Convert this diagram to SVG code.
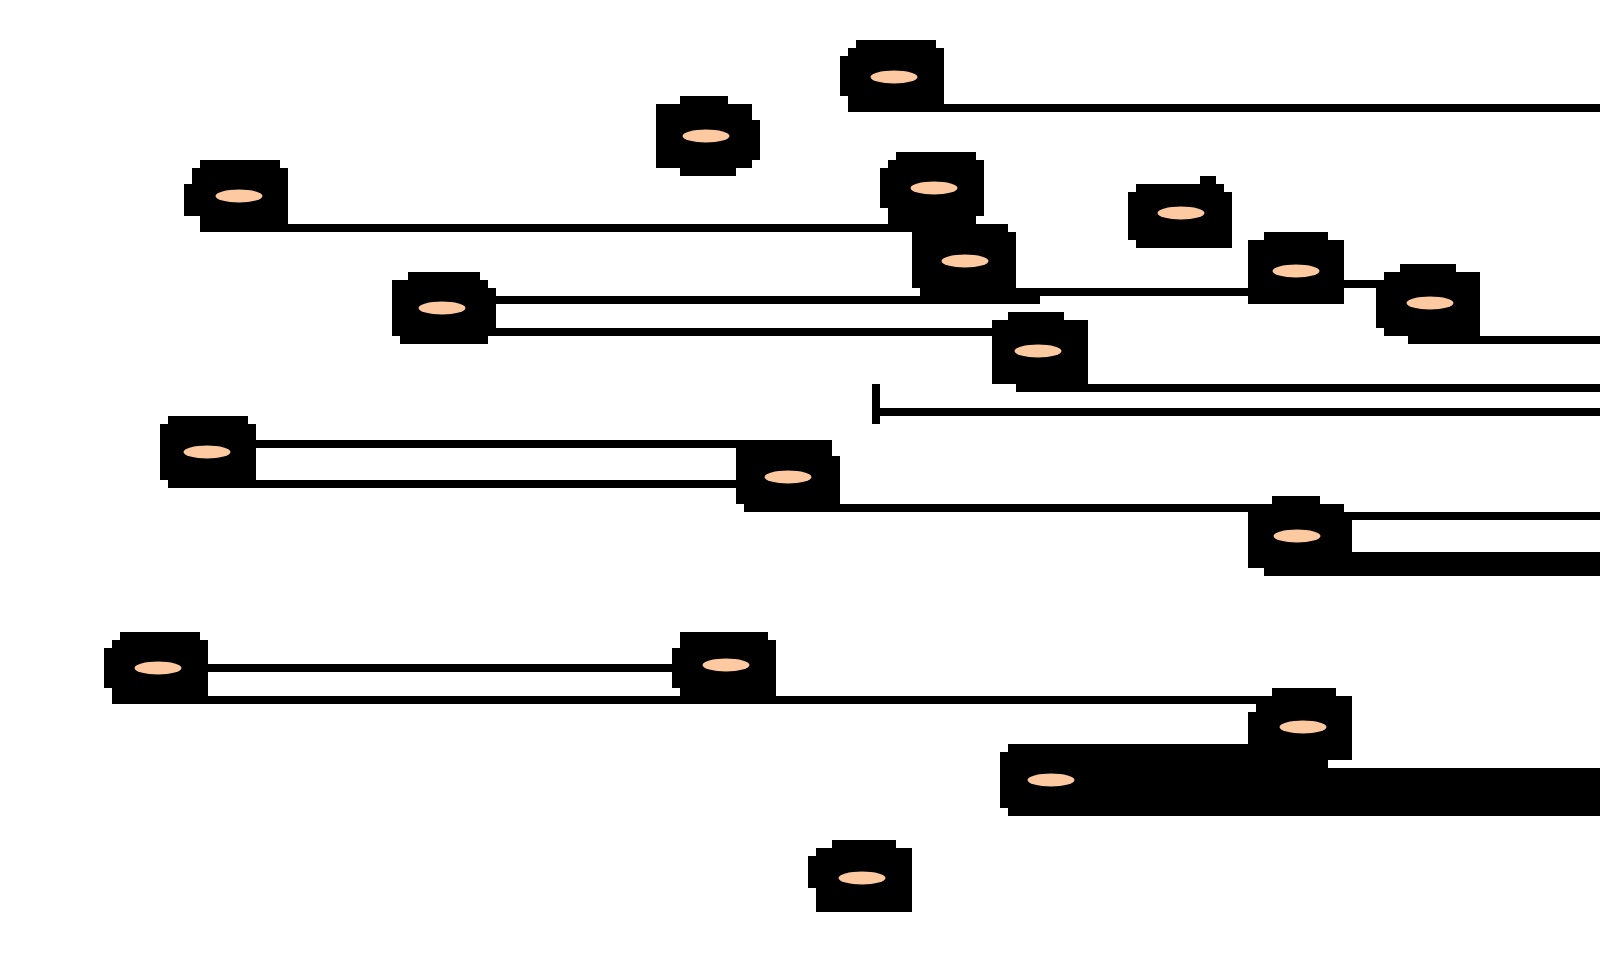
<svg xmlns="http://www.w3.org/2000/svg" width="1600" height="955" viewBox="0 0 1600 955">
<style>
.n{fill:#000}
.e{fill:#fdc9a0}
.c rect{fill:#000}
</style>
<rect width="1600" height="955" fill="#fff"/>
<g id="connectors" class="c">
<rect x="944" y="104" width="656" height="8"/>
<rect x="288" y="224" width="720" height="8"/>
<rect x="1016" y="288" width="232" height="8"/>
<rect x="496" y="296" width="544" height="8"/>
<rect x="496" y="328" width="496" height="8"/>
<rect x="1344" y="280" width="40" height="8"/>
<rect x="1480" y="336" width="120" height="8"/>
<rect x="1016" y="384" width="584" height="8"/>
<rect x="872" y="384" width="8" height="40"/>
<rect x="880" y="408" width="720" height="8"/>
<rect x="256" y="440" width="576" height="8"/>
<rect x="256" y="480" width="480" height="8"/>
<rect x="744" y="504" width="520" height="8"/>
<rect x="1344" y="512" width="256" height="8"/>
<rect x="1352" y="552" width="248" height="24"/>
<rect x="208" y="664" width="464" height="8"/>
<rect x="112" y="696" width="1160" height="8"/>
<rect x="1008" y="744" width="240" height="72"/>
<rect x="1248" y="768" width="352" height="48"/>
</g>
<g id="n1"><path class="n" d="M856,40H936V48H944V112H848V96H840V56H848V48H856Z"/><ellipse class="e" cx="894" cy="77" rx="23.5" ry="6.5"/></g>
<g id="n2"><path class="n" d="M680,96H728V104H752V120H760V160H752V168H736V176H680V168H656V104H680Z"/><ellipse class="e" cx="706" cy="136" rx="23.5" ry="6.5"/></g>
<g id="n3"><path class="n" d="M200,160H280V168H288V232H200V216H184V184H192V168H200Z"/><ellipse class="e" cx="239" cy="196" rx="23.5" ry="6.5"/></g>
<g id="n4"><path class="n" d="M896,152H976V160H984V216H976V224H888V208H880V168H888V160H896Z"/><ellipse class="e" cx="934" cy="188" rx="23.5" ry="6.5"/></g>
<g id="n5"><path class="n" d="M1136,184H1200V176H1216V184H1224V192H1232V248H1136V240H1128V192H1136Z"/><ellipse class="e" cx="1181" cy="213" rx="23.5" ry="6.5"/></g>
<g id="n6"><path class="n" d="M920,224H1008V232H1016V296H920V288H912V232H920Z"/><ellipse class="e" cx="965" cy="261" rx="23.5" ry="6.5"/></g>
<g id="n7"><path class="n" d="M1264,232H1328V240H1344V304H1248V240H1264Z"/><ellipse class="e" cx="1296" cy="271" rx="23.5" ry="6.5"/></g>
<g id="n8"><path class="n" d="M1400,264H1456V272H1480V344H1408V336H1384V328H1376V280H1384V272H1400Z"/><ellipse class="e" cx="1430" cy="303" rx="23.5" ry="6.5"/></g>
<g id="n9"><path class="n" d="M408,272H480V280H488V288H496V336H488V344H400V336H392V280H408Z"/><ellipse class="e" cx="442" cy="308" rx="23.5" ry="6.5"/></g>
<g id="n10"><path class="n" d="M1008,312H1064V320H1088V392H1016V384H992V320H1008Z"/><ellipse class="e" cx="1038" cy="351" rx="23.5" ry="6.5"/></g>
<g id="n11"><path class="n" d="M168,416H248V424H256V488H168V480H160V424H168Z"/><ellipse class="e" cx="207" cy="452" rx="23.5" ry="6.5"/></g>
<g id="n12"><path class="n" d="M736,448H832V456H840V512H744V504H736Z"/><ellipse class="e" cx="788" cy="477" rx="23.5" ry="6.5"/></g>
<g id="n13"><path class="n" d="M1272,496H1320V504H1344V512H1352V576H1264V568H1248V504H1272Z"/><ellipse class="e" cx="1297" cy="536" rx="23.5" ry="6.5"/></g>
<g id="n14"><path class="n" d="M120,632H200V640H208V704H112V688H104V648H112V640H120Z"/><ellipse class="e" cx="158" cy="668" rx="23.5" ry="6.5"/></g>
<g id="n15"><path class="n" d="M680,632H768V640H776V696H680V688H672V648H680Z"/><ellipse class="e" cx="726" cy="665" rx="23.5" ry="6.5"/></g>
<g id="n16"><path class="n" d="M1272,688H1336V696H1352V760H1328V768H1248V712H1256V696H1272Z"/><ellipse class="e" cx="1303" cy="727" rx="23.5" ry="6.5"/></g>
<g id="n17"><path class="n" d="M1008,744H1104V816H1008V808H1000V752H1008Z"/><ellipse class="e" cx="1051" cy="780" rx="23.5" ry="6.5"/></g>
<g id="n18"><path class="n" d="M832,840H896V848H912V912H816V888H808V856H816V848H832Z"/><ellipse class="e" cx="862" cy="878" rx="23.5" ry="6.5"/></g>
</svg>
